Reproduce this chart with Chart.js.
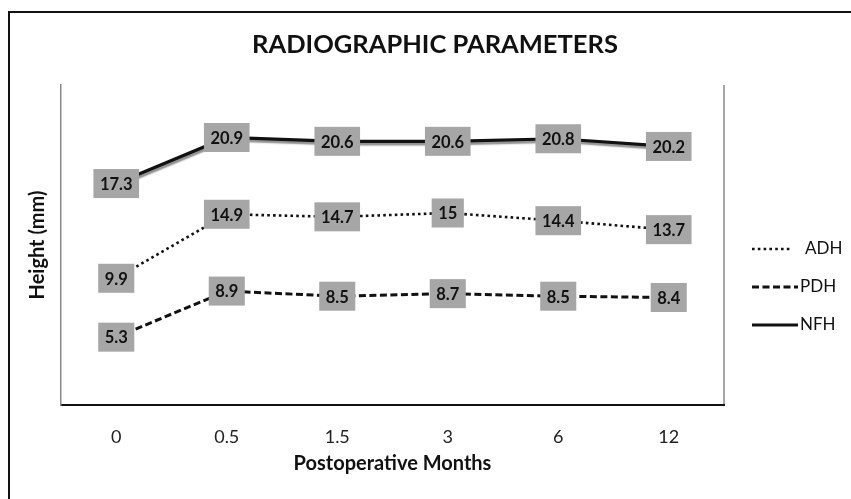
<!DOCTYPE html>
<html>
<head>
<meta charset="utf-8">
<script src="https://cdn.jsdelivr.net/npm/chart.js@4/dist/chart.umd.min.js"></script>
<style>
  html, body { margin: 0; padding: 0; background: #fff; }
  canvas { display: block; }
</style>
</head>
<body>
<canvas id="c" width="851" height="499"></canvas>
<script>
const categories = ['0', '0.5', '1.5', '3', '6', '12'];
const seriesNames = ['ADH', 'PDH', 'NFH'];
const adhValues = [9.9, 14.9, 14.7, 15, 14.4, 13.7];
const pdhValues = [5.3, 8.9, 8.5, 8.7, 8.5, 8.4];
const nfhValues = [17.3, 20.9, 20.6, 20.6, 20.8, 20.2];
const chartTitle = 'RADIOGRAPHIC PARAMETERS';
const xTitle = 'Postoperative Months';
const yTitle = 'Height (mm)';

const FONT = 'Lato, "Open Sans", sans-serif';

const frame = {
  id: 'frame',
  beforeDraw(chart) {
    const ctx = chart.ctx;
    ctx.save();
    ctx.fillStyle = '#fff';
    ctx.fillRect(0, 0, chart.width, chart.height);
    ctx.strokeStyle = '#111';
    ctx.lineWidth = 2;
    ctx.beginPath();
    ctx.moveTo(9, chart.height);
    ctx.lineTo(9, 12);
    ctx.lineTo(chart.width, 12);
    ctx.stroke();
    const a = chart.chartArea;
    ctx.strokeStyle = '#8a8a8a';
    ctx.lineWidth = 1.5;
    ctx.beginPath();
    ctx.moveTo(a.right, a.top);
    ctx.lineTo(a.right, a.bottom);
    ctx.stroke();
    ctx.restore();
  }
};

const shadow = {
  id: 'shadow',
  beforeDatasetDraw(chart, args) {
    const ds = chart.data.datasets[args.index];
    if (ds.label === 'NFH') {
      const ctx = chart.ctx;
      ctx.save();
      ctx.shadowColor = 'rgba(0,0,0,0.45)';
      ctx.shadowOffsetX = 1;
      ctx.shadowOffsetY = 2.5;
      ctx.shadowBlur = 1.5;
    }
  },
  afterDatasetDraw(chart, args) {
    const ds = chart.data.datasets[args.index];
    if (ds.label === 'NFH') chart.ctx.restore();
  }
};

const labels = {
  id: 'boxLabels',
  afterDatasetsDraw(chart) {
    const ctx = chart.ctx;
    ctx.save();
    ctx.font = 'bold 16.5px ' + FONT;
    ctx.textAlign = 'center';
    ctx.textBaseline = 'middle';
    chart.data.datasets.forEach((ds, i) => {
      const meta = chart.getDatasetMeta(i);
      meta.data.forEach((pt, j) => {
        const txt = String(ds.data[j]);
        const w = ctx.measureText(txt).width + 13;
        const h = 29;
        ctx.fillStyle = '#a6a6a6';
        ctx.fillRect(pt.x - w / 2, pt.y - h / 2, w, h);
        ctx.fillStyle = '#111';
        ctx.fillText(txt, pt.x, pt.y + 1);
      });
    });
    ctx.restore();
  }
};

const legend = {
  id: 'customLegend',
  afterDraw(chart) {
    const ctx = chart.ctx;
    ctx.save();
    const x0 = 752, x1 = 798;
    const ys = [249, 287, 325];
    chart.data.datasets.forEach((ds, i) => {
      const y = ys[i];
      ctx.strokeStyle = ds.borderColor;
      ctx.lineWidth = ds.borderWidth;
      ctx.setLineDash(ds.borderDash || []);
      ctx.beginPath();
      ctx.moveTo(x0, y);
      ctx.lineTo(ds.label === 'ADH' ? x1 - 6 : x1, y);
      ctx.stroke();
      ctx.setLineDash([]);
      ctx.fillStyle = '#111';
      ctx.font = '17px ' + FONT;
      ctx.textAlign = 'left';
      ctx.textBaseline = 'middle';
      ctx.fillText(ds.label, ds.label === 'ADH' ? 805 : 800, y);
    });
    ctx.restore();
  }
};

new Chart(document.getElementById('c'), {
  type: 'line',
  data: {
    labels: categories,
    datasets: [
      { label: seriesNames[0], data: adhValues, borderColor: '#111', borderWidth: 2.6, borderDash: [2.6, 3.2], pointRadius: 0, tension: 0 },
      { label: seriesNames[1], data: pdhValues, borderColor: '#111', borderWidth: 3, borderDash: [7, 3.5], pointRadius: 0, tension: 0 },
      { label: seriesNames[2], data: nfhValues, borderColor: '#111', borderWidth: 3.2, pointRadius: 0, tension: 0 }
    ]
  },
  options: {
    responsive: false,
    animation: false,
    events: [],
    layout: { padding: { left: 19, right: 0, top: 0, bottom: 0 } },
    plugins: {
      legend: { display: false },
      tooltip: { enabled: false },
      title: {
        display: true,
        text: chartTitle,
        color: '#111',
        font: { family: FONT, size: 25.5, weight: 'bold', lineHeight: '30px' },
        padding: { top: 30, bottom: 25 }
      }
    },
    scales: {
      x: {
        type: 'category',
        offset: true,
        grid: { display: false, drawTicks: false },
        border: { display: true, color: '#111', width: 2 },
        ticks: { color: '#222', font: { family: FONT, size: 18 }, padding: 21 },
        title: { display: true, text: xTitle, color: '#111', font: { family: FONT, size: 20, weight: 'bold', lineHeight: 1.2 }, padding: { top: 0, bottom: 23 } },
        afterFit(scale) { scale.height = 94; }
      },
      y: {
        min: 0, max: 25,
        grid: { display: false, drawTicks: false },
        border: { display: true, color: '#8a8a8a', width: 1.5 },
        ticks: { display: false },
        title: { display: true, text: yTitle, color: '#111', font: { family: FONT, size: 20, weight: 'bold', lineHeight: 1.2 }, padding: { top: 7, bottom: 0 } },
        afterFit(scale) { scale.width = 42; }
      },
      yR: {
        type: 'linear',
        axis: 'y',
        position: 'right',
        min: 0, max: 25,
        grid: { display: false, drawTicks: false },
        border: { display: false },
        ticks: { display: false },
        afterFit(scale) { scale.width = 127; }
      }
    }
  },
  plugins: [frame, shadow, labels, legend]
});
</script>
</body>
</html>
